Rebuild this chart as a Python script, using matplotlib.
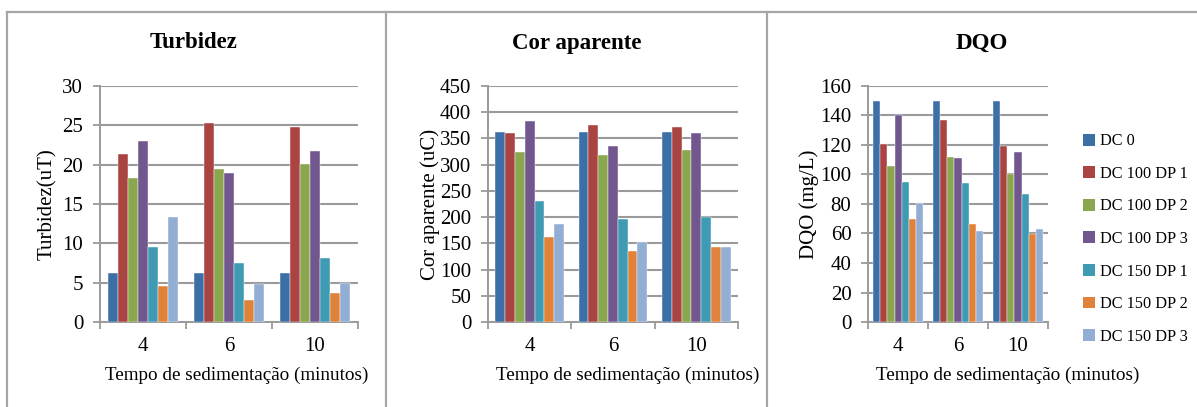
import numpy as np
import matplotlib.pyplot as plt
from matplotlib.lines import Line2D
from matplotlib.patches import Patch

plt.rcParams['font.family'] = ['Liberation Serif', 'DejaVu Serif']

tempos = ['4', '6', '10']
series = ['DC 0', 'DC 100 DP 1', 'DC 100 DP 2', 'DC 100 DP 3',
          'DC 150 DP 1', 'DC 150 DP 2', 'DC 150 DP 3']
cores = ['#3D6FA7', '#A94442', '#8AA64E', '#72578F',
         '#3F9BB3', '#E0823A', '#93AED5']

turbidez = [
    [6.2, 6.2, 6.2],
    [21.4, 25.3, 24.8],
    [18.3, 19.4, 20.1],
    [23.0, 19.0, 21.7],
    [9.5, 7.5, 8.1],
    [4.6, 2.8, 3.7],
    [13.4, 4.8, 5.0],
]
cor_aparente = [
    [362, 362, 362],
    [360, 376, 372],
    [325, 318, 328],
    [383, 335, 360],
    [230, 197, 200],
    [163, 136, 143],
    [186, 153, 143],
]
dqo = [
    [150, 150, 150],
    [120.5, 137, 119.5],
    [106, 112, 100],
    [140, 111, 115.5],
    [95, 94, 86.5],
    [70, 66.5, 59.5],
    [80.5, 61.5, 63],
]

# title, y label, data, y max, step, axes rect, y-label x, x-label x, title x (px)
paineis = [
    ('Turbidez', 'Turbidez(uT)', turbidez, 30, 5,
     [0.0835, 0.2088, 0.2155, 0.58], -0.166, 0.531, 194),
    ('Cor aparente', 'Cor aparente (uC)', cor_aparente, 450, 50,
     [0.4077, 0.2088, 0.2088, 0.58], -0.192, 0.56, 577),
    ('DQO', 'DQO (mg/L)', dqo, 160, 20,
     [0.7252, 0.2088, 0.1503, 0.58], -0.272, 0.778, 982),
]
eixo_cor = '#9a9a9a'

fig = plt.figure(figsize=(11.97, 4.07), dpi=100)

# panel frames
for x in [7, 385.5, 767]:
    fig.add_artist(Line2D([x / 1197, x / 1197], [0, 1 - 12 / 407],
                          color='#a6a6a6', lw=1.6))
fig.add_artist(Line2D([7 / 1197, 1], [1 - 12 / 407, 1 - 12 / 407],
                      color='#a6a6a6', lw=1.6))

n = len(series)
largura = 1 / (n + 1.5)
pos = np.arange(len(tempos))

for titulo, ylabel, dados, ymax, passo, rect, ylx, xlx, tx in paineis:
    ax = fig.add_axes(rect)
    for i, (nome, vals, c) in enumerate(zip(series, dados, cores)):
        ax.bar(pos - 0.5 + 0.75 * largura + i * largura + largura / 2, vals,
               width=largura, color=c, edgecolor='white', linewidth=0.3,
               label=nome, zorder=3)
    ax.set_xlim(-0.5, len(tempos) - 0.5)
    ax.set_ylim(0, ymax)
    ax.set_yticks(np.arange(0, ymax + passo, passo))
    ax.yaxis.grid(True, color=eixo_cor, lw=1.5, zorder=0)
    ax.set_xticks(pos)
    ax.set_xticklabels(tempos)
    ax.set_xticks(np.arange(-0.5, len(tempos)), minor=True)
    ax.tick_params(axis='x', which='major', length=0, labelsize=15, pad=11)
    ax.tick_params(axis='x', which='minor', length=5, width=1.3, color=eixo_cor, direction='out')
    ax.tick_params(axis='y', length=5, width=1.3, color=eixo_cor, labelsize=15, pad=7)
    for s in ['top', 'right']:
        ax.spines[s].set_visible(False)
    for s in ['left', 'bottom']:
        ax.spines[s].set_color(eixo_cor)
        ax.spines[s].set_linewidth(1.4)
    ax.set_xlabel('Tempo de sedimentação (minutos)', fontsize=13.8)
    ax.xaxis.set_label_coords(xlx, -0.19)
    ax.set_ylabel(ylabel, fontsize=15)
    ax.yaxis.set_label_coords(ylx, 0.5)
    fig.text(tx / 1197, 1 - 43 / 407, titulo, ha='center', va='center',
             fontsize=16.5, fontweight='bold')

handles = [Patch(facecolor=c, edgecolor='none') for c in cores]
fig.legend(handles, series, loc='center left', bbox_to_anchor=(1076 / 1197, 1 - 239 / 407),
           frameon=False, fontsize=11.7, handlelength=0.75, handleheight=0.75,
           handletextpad=0.3, labelspacing=1.02, borderaxespad=0)

fig.savefig('out.png', dpi=100, facecolor='white')
